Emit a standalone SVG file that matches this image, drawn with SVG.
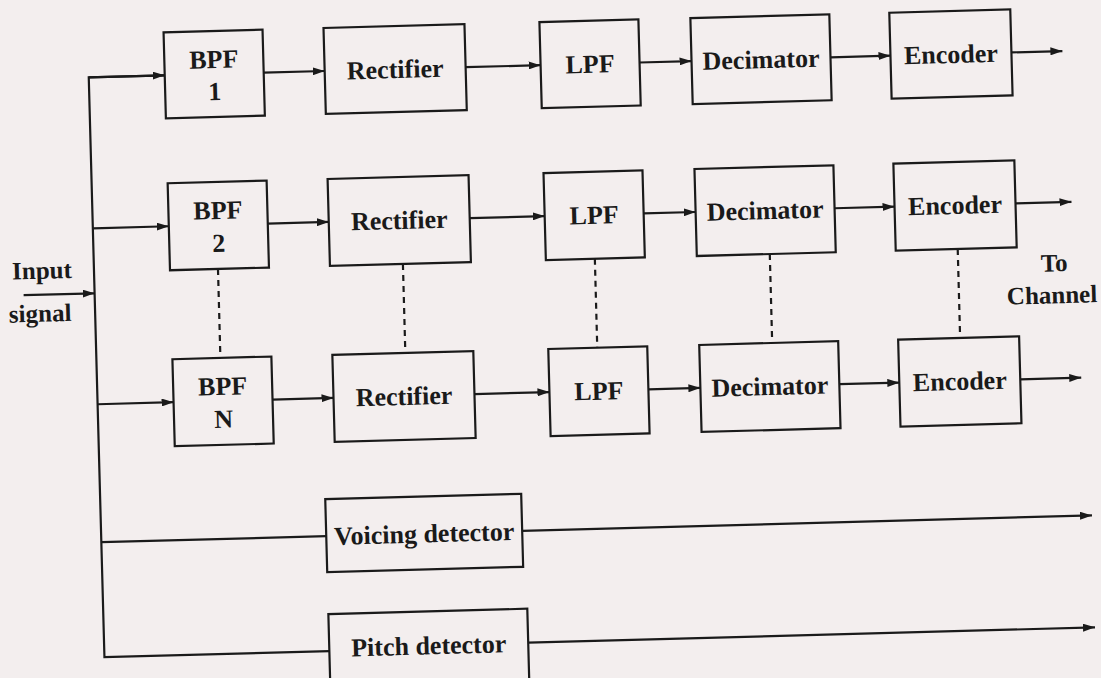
<svg xmlns="http://www.w3.org/2000/svg" width="1101" height="678" viewBox="0 0 1101 678">
  <defs>
    <marker id="ah" viewBox="0 0 12 8" refX="12" refY="4" markerWidth="12" markerHeight="8" markerUnits="userSpaceOnUse" orient="auto">
      <path d="M0,0 L12,4 L0,8 Z" fill="#1a1a1a"/>
    </marker>
    <style>
      .box { fill: none; stroke: #1a1a1a; stroke-width: 2.2; }
      .lbl { font-family: "Liberation Serif", "Times New Roman", serif; font-weight: bold; font-size: 26px; fill: #1a1a1a; text-anchor: middle; }
      .side { font-family: "Liberation Serif", "Times New Roman", serif; font-weight: bold; font-size: 25px; fill: #1a1a1a; text-anchor: middle; }
      .wire { fill: none; stroke: #1a1a1a; stroke-width: 2.2; }
      .arr { fill: none; stroke: #1a1a1a; stroke-width: 2.2; marker-end: url(#ah); }
      .dash { fill: none; stroke: #1a1a1a; stroke-width: 2.2; stroke-dasharray: 6 5; }
    </style>
  </defs>
  <rect width="1101" height="678" fill="#f3eeee"/>
  <g transform="rotate(-1.55 550 339)">
    <g id="connectors">
      <!-- bus -->
      <path class="wire" d="M172,65 L96,65 L96,645 L321,645"/>
      <!-- input -->
      <line class="arr" x1="25" y1="281" x2="96" y2="281"/>
      <!-- row 1 -->
      <line class="arr" x1="96" y1="65" x2="172" y2="65"/>
      <line class="arr" x1="271" y1="65" x2="332" y2="65"/>
      <line class="arr" x1="473" y1="65" x2="548" y2="65"/>
      <line class="arr" x1="647" y1="65" x2="699" y2="65"/>
      <line class="arr" x1="838" y1="65" x2="898" y2="65"/>
      <line class="arr" x1="1019" y1="65" x2="1070" y2="65"/>
      <!-- row 2 -->
      <line class="arr" x1="96" y1="216" x2="172" y2="216"/>
      <line class="arr" x1="271" y1="216" x2="332" y2="216"/>
      <line class="arr" x1="473" y1="216" x2="548" y2="216"/>
      <line class="arr" x1="647" y1="216" x2="699" y2="216"/>
      <line class="arr" x1="838" y1="216" x2="898" y2="216"/>
      <line class="arr" x1="1019" y1="216" x2="1075" y2="216"/>
      <!-- row N -->
      <line class="arr" x1="96" y1="392" x2="172" y2="392"/>
      <line class="arr" x1="271" y1="392" x2="332" y2="392"/>
      <line class="arr" x1="473" y1="392" x2="548" y2="392"/>
      <line class="arr" x1="647" y1="392" x2="699" y2="392"/>
      <line class="arr" x1="838" y1="392" x2="898" y2="392"/>
      <line class="arr" x1="1019" y1="392" x2="1080" y2="392"/>
      <!-- detectors -->
      <line class="wire" x1="96" y1="530" x2="321" y2="530"/>
      <line class="arr" x1="517" y1="530" x2="1087" y2="530"/>
      <line class="arr" x1="520" y1="642" x2="1087" y2="642"/>
      <!-- dashed continuation lines -->
      <line class="dash" x1="220" y1="260" x2="220" y2="349"/>
      <line class="dash" x1="405" y1="260" x2="405" y2="349"/>
      <line class="dash" x1="597" y1="260" x2="597" y2="349"/>
      <line class="dash" x1="772" y1="260" x2="772" y2="349"/>
      <line class="dash" x1="960" y1="260" x2="960" y2="349"/>
    </g>

    <g id="bpf1"><rect class="box" x="172" y="22" width="99" height="86"/><text class="lbl" x="221.5" y="59">BPF</text><text class="lbl" x="221.5" y="91">1</text></g>
    <g id="rect1"><rect class="box" x="332" y="22" width="141" height="86"/><text class="lbl" x="402.5" y="74">Rectifier</text></g>
    <g id="lpf1"><rect class="box" x="548" y="22" width="99" height="86"/><text class="lbl" x="597.5" y="74">LPF</text></g>
    <g id="dec1"><rect class="box" x="699" y="22" width="139" height="86"/><text class="lbl" x="768.5" y="74">Decimator</text></g>
    <g id="enc1"><rect class="box" x="898" y="22" width="121" height="86"/><text class="lbl" x="958.5" y="74">Encoder</text></g>

    <g id="bpf2"><rect class="box" x="172" y="173" width="99" height="87"/><text class="lbl" x="221.5" y="210">BPF</text><text class="lbl" x="221.5" y="243">2</text></g>
    <g id="rect2"><rect class="box" x="332" y="173" width="141" height="87"/><text class="lbl" x="402.5" y="225">Rectifier</text></g>
    <g id="lpf2"><rect class="box" x="548" y="173" width="99" height="87"/><text class="lbl" x="597.5" y="225">LPF</text></g>
    <g id="dec2"><rect class="box" x="699" y="173" width="139" height="87"/><text class="lbl" x="768.5" y="225">Decimator</text></g>
    <g id="enc2"><rect class="box" x="898" y="173" width="121" height="87"/><text class="lbl" x="958.5" y="225">Encoder</text></g>

    <g id="bpfN"><rect class="box" x="172" y="349" width="99" height="87"/><text class="lbl" x="221.5" y="386">BPF</text><text class="lbl" x="221.5" y="419">N</text></g>
    <g id="rectN"><rect class="box" x="332" y="349" width="141" height="87"/><text class="lbl" x="402.5" y="401">Rectifier</text></g>
    <g id="lpfN"><rect class="box" x="548" y="349" width="99" height="87"/><text class="lbl" x="597.5" y="401">LPF</text></g>
    <g id="decN"><rect class="box" x="699" y="349" width="139" height="87"/><text class="lbl" x="768.5" y="401">Decimator</text></g>
    <g id="encN"><rect class="box" x="898" y="349" width="121" height="87"/><text class="lbl" x="958.5" y="401">Encoder</text></g>

    <g id="voicing"><rect class="box" x="321" y="493" width="196" height="73"/><text class="lbl" x="419" y="539">Voicing detector</text></g>
    <g id="pitch"><rect class="box" x="321" y="608" width="199" height="74"/><text class="lbl" x="420.5" y="651">Pitch detector</text></g>

    <g id="input"><text class="side" x="44" y="265">Input</text><text class="side" x="41" y="308">signal</text></g>
    <g id="out"><text class="side" x="1056" y="285">To</text><text class="side" x="1053" y="317">Channel</text></g>
  </g>
</svg>
